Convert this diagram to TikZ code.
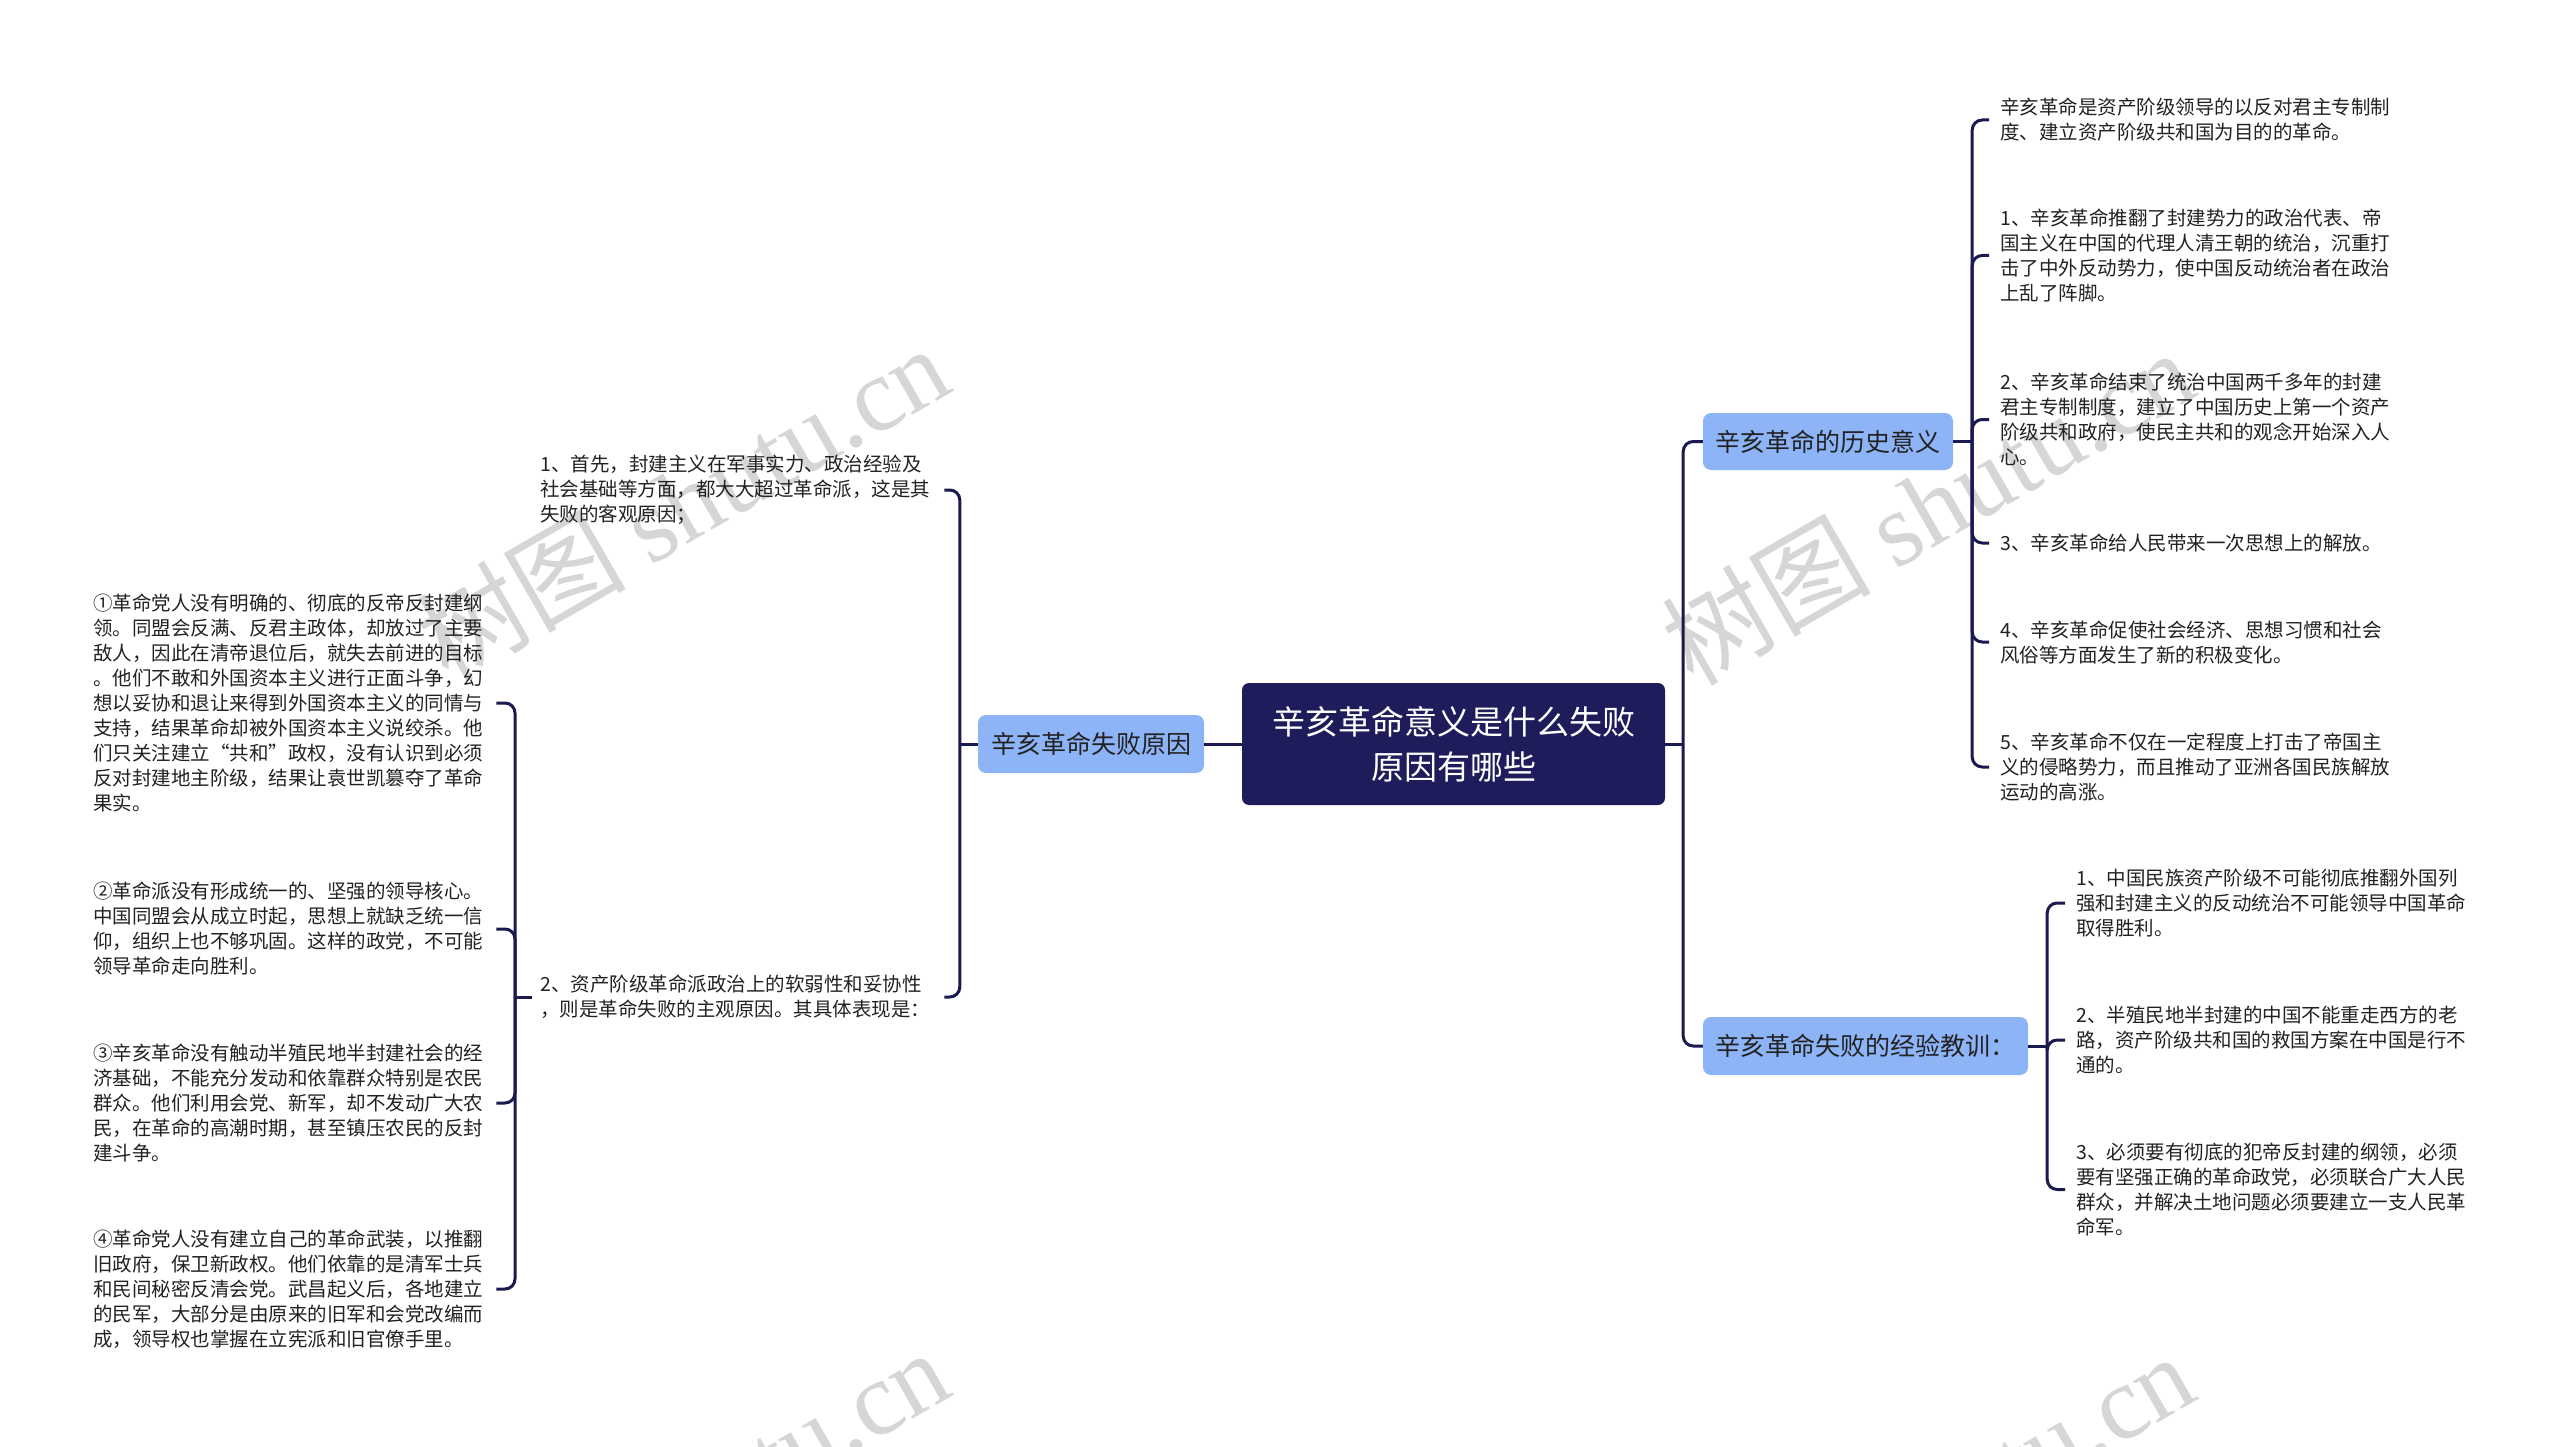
\documentclass[tikz,border=0pt]{standalone}
\usepackage{fontspec}
\setmainfont{Noto Sans CJK SC}
\newfontfamily\wmserif{Liberation Serif}
\usetikzlibrary{calc}
\definecolor{navy}{HTML}{1E1C5A}
\definecolor{linec}{HTML}{1B1A50}
\definecolor{branchblue}{HTML}{8DB4F6}
\definecolor{txt}{HTML}{222222}
\definecolor{wm}{HTML}{D6D6D6}
\begin{document}
\begin{tikzpicture}[x=1pt,y=-1pt,
  conn/.style={draw=linec,line width=3pt,rounded corners=10pt},
  rootbox/.style={fill=navy,rounded corners=7pt,text=white,font=\fontsize{33}{45}\selectfont,align=center,minimum width=423pt,minimum height=122pt,inner sep=0pt},
  branchbox/.style={fill=branchblue,rounded corners=8pt,text=txt,font=\fontsize{25}{30}\selectfont,minimum height=58pt,inner sep=0pt},
  leaf/.style={text=txt,font=\fontsize{19.5}{25}\selectfont,align=left,text width=395pt,inner sep=0pt},
  wmark/.style={text=wm,rotate=30,font=\fontsize{105}{105}\selectfont,inner sep=0pt}
]
\useasboundingbox (0,0) rectangle (2560,1447);
\fill[white] (0,0) rectangle (2560,1447);
\begin{scope}
\clip (0,0) rectangle (2560,1447);
\node[wmark] (wm1) at (682,502) {树图 {\wmserif shutu.cn}};
\node[wmark] (wm2) at (1927,506) {树图 {\wmserif shutu.cn}};
\node[wmark] (wm3) at (682,1506) {树图 {\wmserif shutu.cn}};
\node[wmark] (wm4) at (1927,1510) {树图 {\wmserif shutu.cn}};
\end{scope}

% main nodes
\node[rootbox] (root) at (1453.5,744) {辛亥革命意义是什么失败\\原因有哪些};
\node[branchbox,minimum width=226pt] (L) at (1091,744) {辛亥革命失败原因};
\node[branchbox,minimum width=250pt,minimum height=57pt] (R1) at (1828,441.5) {辛亥革命的历史意义};
\node[branchbox,minimum width=325pt] (R2) at (1865.5,1046) {辛亥革命失败的经验教训：};

% right: history significance
\node[leaf,anchor=west] (c1) at (2000,120) {辛亥革命是资产阶级领导的以反对君主专制制\\度、建立资产阶级共和国为目的的革命。};
\node[leaf,anchor=west] (c2) at (2000,255.5) {1、辛亥革命推翻了封建势力的政治代表、帝\\国主义在中国的代理人清王朝的统治，沉重打\\击了中外反动势力，使中国反动统治者在政治\\上乱了阵脚。};
\node[leaf,anchor=west] (c3) at (2000,419.5) {2、辛亥革命结束了统治中国两千多年的封建\\君主专制制度，建立了中国历史上第一个资产\\阶级共和政府，使民主共和的观念开始深入人\\心。};
\node[leaf,anchor=west] (c4) at (2000,543) {3、辛亥革命给人民带来一次思想上的解放。};
\node[leaf,anchor=west] (c5) at (2000,642) {4、辛亥革命促使社会经济、思想习惯和社会\\风俗等方面发生了新的积极变化。};
\node[leaf,anchor=west] (c6) at (2000,767) {5、辛亥革命不仅在一定程度上打击了帝国主\\义的侵略势力，而且推动了亚洲各国民族解放\\运动的高涨。};

% right: lessons
\node[leaf,anchor=west] (d1) at (2076,903) {1、中国民族资产阶级不可能彻底推翻外国列\\强和封建主义的反动统治不可能领导中国革命\\取得胜利。};
\node[leaf,anchor=west] (d2) at (2076,1040) {2、半殖民地半封建的中国不能重走西方的老\\路，资产阶级共和国的救国方案在中国是行不\\通的。};
\node[leaf,anchor=west] (d3) at (2076,1189.5) {3、必须要有彻底的犯帝反封建的纲领，必须\\要有坚强正确的革命政党，必须联合广大人民\\群众，并解决土地问题必须要建立一支人民革\\命军。};

% left: failure reasons
\node[leaf,anchor=west] (e1) at (540,490) {1、首先，封建主义在军事实力、政治经验及\\社会基础等方面，都大大超过革命派，这是其\\失败的客观原因；};
\node[leaf,anchor=west] (e2) at (540,997) {2、资产阶级革命派政治上的软弱性和妥协性\\，则是革命失败的主观原因。其具体表现是：};

\node[leaf,anchor=west] (f1) at (93,703) {①革命党人没有明确的、彻底的反帝反封建纲\\领。同盟会反满、反君主政体，却放过了主要\\敌人，因此在清帝退位后，就失去前进的目标\\。他们不敢和外国资本主义进行正面斗争，幻\\想以妥协和退让来得到外国资本主义的同情与\\支持，结果革命却被外国资本主义说绞杀。他\\们只关注建立“共和”政权，没有认识到必须\\反对封建地主阶级，结果让袁世凯篡夺了革命\\果实。};
\node[leaf,anchor=west] (f2) at (93,929) {②革命派没有形成统一的、坚强的领导核心。\\中国同盟会从成立时起，思想上就缺乏统一信\\仰，组织上也不够巩固。这样的政党，不可能\\领导革命走向胜利。};
\node[leaf,anchor=west] (f3) at (93,1103) {③辛亥革命没有触动半殖民地半封建社会的经\\济基础，不能充分发动和依靠群众特别是农民\\群众。他们利用会党、新军，却不发动广大农\\民，在革命的高潮时期，甚至镇压农民的反封\\建斗争。};
\node[leaf,anchor=west] (f4) at (93,1289) {④革命党人没有建立自己的革命武装，以推翻\\旧政府，保卫新政权。他们依靠的是清军士兵\\和民间秘密反清会党。武昌起义后，各地建立\\的民军，大部分是由原来的旧军和会党改编而\\成，领导权也掌握在立宪派和旧官僚手里。};

% junction coordinates
\coordinate (jRoot) at ($(root.east)+(18,0)$);
\coordinate (jR1) at ($(R1.east)+(19,0)$);
\coordinate (jR2) at ($(R2.east)+(19,0)$);
\coordinate (jL) at ($(L.west)+(-18,0)$);
\coordinate (jE2) at ($(e2.west)+(-25,0)$);

% connectors
\draw[conn] (root.east) -- (jRoot);
\draw[conn] (jRoot) |- (R1.west);
\draw[conn] (jRoot) |- (R2.west);
\draw[conn] (root.west) -- (L.east);

\draw[conn] (R1.east) -- (jR1);
\foreach \n in {c1,c2,c3,c4,c5,c6}
  \draw[conn] (jR1) |- ($(\n.west)+(-11,0)$);

\draw[conn] (R2.east) -- (jR2);
\foreach \n in {d1,d2,d3}
  \draw[conn] (jR2) |- ($(\n.west)+(-11,0)$);

\draw[conn] (L.west) -- (jL);
\draw[conn] (jL) |- ($(e1.east)+(9,0)$);
\draw[conn] (jL) |- ($(e2.east)+(9,0)$);

\draw[conn] ($(e2.west)+(-8,0)$) -- (jE2);
\foreach \n in {f1,f2,f3,f4}
  \draw[conn] (jE2) |- ($(\n.east)+(8,0)$);
\end{tikzpicture}
\end{document}
